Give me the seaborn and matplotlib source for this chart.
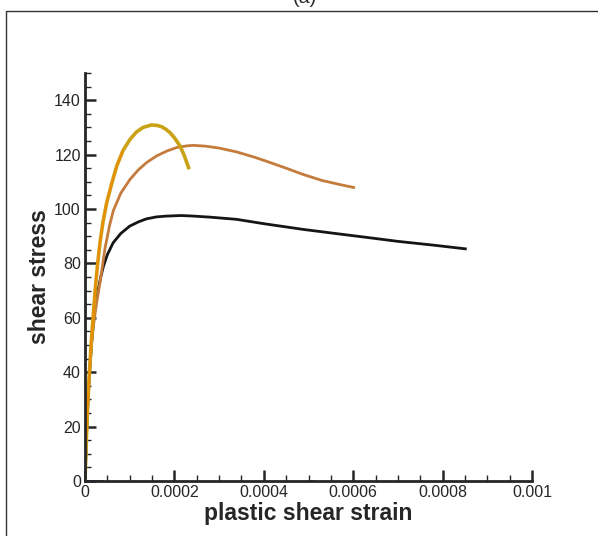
import numpy as np
import pandas as pd
import matplotlib
matplotlib.use("Agg")
import matplotlib.pyplot as plt
import seaborn as sns
from matplotlib.patches import Rectangle
from matplotlib.ticker import MultipleLocator

sns.set_style("ticks")
plt.rcParams['font.family'] = ['Liberation Sans', 'DejaVu Sans']

# --- data (strain values in units of 1e-6) ---
black_x = [0, 2, 4, 7, 10, 14, 19, 24, 30, 35, 41, 50, 63, 80, 100, 120, 138, 160, 183,
           215, 242, 280, 339, 400, 488, 560, 638, 700, 780, 854]
black_y = [0, 10, 20, 30, 39, 49, 59, 65.5, 70.8, 74.8, 78.8, 83.2, 87.6, 91.0, 93.7, 95.3,
           96.4, 97.1, 97.4, 97.6, 97.4, 97.0, 96.2, 94.6, 92.5, 91.0, 89.4, 88.1, 86.7, 85.3]

brown_x = [0, 3, 6, 10, 15, 20, 25, 33.6, 44.7, 55, 63.4, 80, 100.7, 120, 138, 160, 183,
           205, 227, 242, 270, 300, 339, 380, 414, 450, 488, 530, 570, 604]
brown_y = [0, 15, 28, 40, 51, 58.5, 64.5, 73, 85.5, 94.0, 99.4, 105.8, 110.9, 114.5, 117.1,
           119.5, 121.3, 122.6, 123.2, 123.4, 123.1, 122.4, 121.0, 119.0, 117.1, 115.0,
           112.7, 110.5, 109.0, 107.8]

gold_x = [0, 3, 6, 10, 14, 18.6, 22.4, 28, 33.6, 40, 48.5, 60, 71, 85, 100.7, 115, 130,
          149, 162, 172, 182, 190, 200, 212.5, 222, 233]
gold_y = [0, 15, 28, 40, 51, 61, 69.5, 79.5, 87.7, 95.0, 102.3, 109.5, 115.8, 121.5, 125.6,
          128.3, 130.0, 130.9, 130.7, 130.2, 129.2, 128.1, 126.2, 123.2, 119.7, 114.6]

orange_x = [0, 3, 6, 10, 14, 18.6, 22.4, 28, 33.6, 40, 48.5, 60, 71, 85]
orange_y = [0, 15, 28, 40, 51, 61, 69.5, 79.5, 87.7, 95.0, 102.3, 109.5, 115.8, 121.5]

blue_x = [0, 40]
blue_y = [0, 0]
red_x = [497, 512]
red_y = [0, 0]

x_ticks = [0, 0.0002, 0.0004, 0.0006, 0.0008, 0.001]
x_tick_labels = ["0", "0.0002", "0.0004", "0.0006", "0.0008", "0.001"]
y_ticks = [0, 20, 40, 60, 80, 100, 120, 140]
y_tick_labels = ["0", "20", "40", "60", "80", "100", "120", "140"]

fig = plt.figure(figsize=(5.98, 5.36), dpi=100)
ax = fig.add_axes([85/598, 1-481/536, (532-85)/598, (481-73)/536])

def draw(x, y, color, lw):
    df = pd.DataFrame({"x": np.array(x) * 1e-6, "y": y})
    sns.lineplot(data=df, x="x", y="y", ax=ax, color=color, lw=lw, sort=False,
                 estimator=None, legend=False, solid_joinstyle='round', solid_capstyle='butt')

draw(blue_x, blue_y, "#3030a0", 2)
draw(red_x, red_y, "#c02020", 2)
draw(black_x, black_y, "#151515", 2.0)
draw(brown_x, brown_y, "#c57b3c", 2.0)
draw(gold_x, gold_y, "#c9a216", 2.6)
draw(orange_x, orange_y, "#f08a00", 1.3)

ax.set_xlim(0, 0.001)
ax.set_ylim(0, 150)
ax.set_xticks(x_ticks)
ax.set_xticklabels(x_tick_labels)
ax.set_yticks(y_ticks)
ax.set_yticklabels(y_tick_labels)
ax.xaxis.set_minor_locator(MultipleLocator(0.00005))
ax.yaxis.set_minor_locator(MultipleLocator(5))
ax.tick_params(which='major', direction='in', length=8, width=1.8, labelsize=11.5, pad=3)
ax.tick_params(which='minor', direction='in', length=4, width=1.0)
ax.tick_params(axis='x', pad=3)
for s in ['top', 'right']:
    ax.spines[s].set_visible(False)
for s in ['left', 'bottom']:
    ax.spines[s].set_linewidth(2)
ax.set_xlabel("plastic shear strain", fontsize=16.5, fontweight='bold', labelpad=1)
ax.set_ylabel("shear stress", fontsize=16.5, fontweight='bold', labelpad=2)
ax.set_facecolor('white')

fig.patches.append(Rectangle((6/598, -0.02), 1.2, 1 - 11/536 + 0.02, transform=fig.transFigure,
                             fill=False, edgecolor='#333333', lw=1.0))
fig.text(305/598, 1 - 7/536, "(a)", ha='center', va='bottom', fontsize=14)

fig.savefig("out.png", dpi=100)
